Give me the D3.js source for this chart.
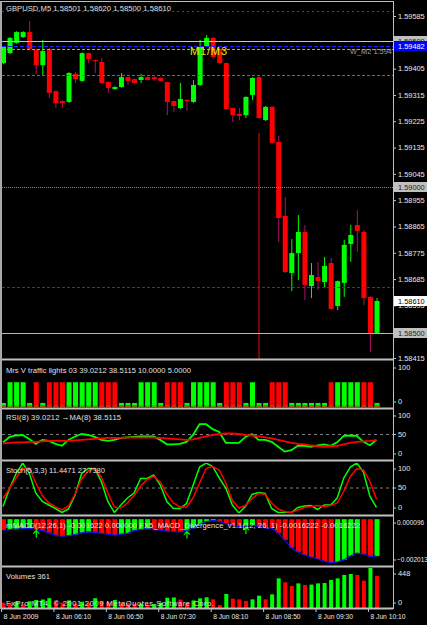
<!DOCTYPE html>
<html><head><meta charset="utf-8">
<script src="https://cdn.jsdelivr.net/npm/d3@7"></script>
<style>
html,body{margin:0;padding:0;background:#000;}
svg{display:block;}
</style></head><body>
<svg id="chart" width="427" height="625"></svg>
<script>
// GBPUSD M5, 8 Jun 2009, bars 05:30 .. 10:15
const opens  = [1.59424,1.59458,1.59493,1.59513,1.59530,1.59469,1.59417,1.59472,1.59328,1.59294,
                1.59291,1.59387,1.59363,1.59458,1.59434,1.59428,1.59359,1.59335,1.59342,1.59376,
                1.59369,1.59366,1.59376,1.59376,1.59373,1.59359,1.59294,1.59270,1.59298,1.59291,
                1.59349,1.59482,1.59510,1.59472,1.59424,1.59270,1.59250,1.59246,1.59315,1.59376,
                1.59229,1.59274,1.59154,1.58901,1.58706,1.58774,1.58846,1.58661,1.58692,1.58675,
                1.58740,1.58593,1.58672,1.58805,1.58870,1.58846,1.58624,1.58501]
const highs  = [1.59482,1.59513,1.59533,1.59533,1.59568,1.59472,1.59503,1.59475,1.59330,1.59296,
                1.59393,1.59393,1.59461,1.59460,1.59436,1.59441,1.59361,1.59344,1.59390,1.59378,
                1.59371,1.59387,1.59378,1.59378,1.59375,1.59361,1.59296,1.59356,1.59300,1.59366,
                1.59503,1.59520,1.59513,1.59474,1.59426,1.59272,1.59270,1.59310,1.59375,1.59378,
                1.59277,1.59277,1.59175,1.58966,1.58822,1.58904,1.58870,1.58740,1.58744,1.58761,
                1.58757,1.58680,1.58819,1.58870,1.58921,1.58853,1.58626,1.58620]
const lows   = [1.59420,1.59455,1.59490,1.59510,1.59469,1.59387,1.59383,1.59305,1.59270,1.59274,
                1.59288,1.59356,1.59360,1.59424,1.59390,1.59353,1.59322,1.59333,1.59340,1.59349,
                1.59354,1.59356,1.59364,1.59363,1.59361,1.59246,1.59257,1.59267,1.59260,1.59288,
                1.59346,1.59479,1.59438,1.59421,1.59264,1.59222,1.59229,1.59236,1.59298,1.59233,
                1.59226,1.59148,1.58812,1.58706,1.58644,1.58682,1.58613,1.58620,1.58648,1.58654,
                1.58580,1.58579,1.58624,1.58744,1.58778,1.58596,1.58436,1.58500]
const closes = [1.59479,1.59510,1.59530,1.59530,1.59472,1.59417,1.59465,1.59322,1.59287,1.59287,
                1.59390,1.59369,1.59458,1.59438,1.59431,1.59356,1.59339,1.59342,1.59376,1.59363,
                1.59356,1.59376,1.59366,1.59369,1.59363,1.59291,1.59277,1.59301,1.59294,1.59349,
                1.59479,1.59510,1.59445,1.59424,1.59267,1.59246,1.59243,1.59308,1.59373,1.59236,
                1.59274,1.59151,1.58894,1.58709,1.58774,1.58846,1.58665,1.58699,1.58678,1.58730,
                1.58583,1.58678,1.58802,1.58836,1.58850,1.58620,1.58500,1.58610]

// red spike line on the 08:45 bar
const spike = {bar: 39, from: 1.59185, to: 1.58300}

const priceTicks = [1.59585,1.59405,1.59315,1.59225,1.59135,1.59045,1.58955,1.58865,1.58775,1.58685,1.58595,1.58415]
const levelPrices = [1.59602, 1.59500, 1.59482, 1.59471, 1.59383, 1.59000, 1.58658, 1.58500]
const levelKinds  = ['green','silver','blue','orange','brown','grey','purple','bid']
const boxPrices = [1.59500, 1.59482, 1.59000, 1.58610, 1.58500]
const boxKinds  = ['grey','blue','grey','white','grey']

const timeTickBars = [0, 8, 16, 24, 32, 40, 48, 56]
const timeLabels = ['8 Jun 2009','8 Jun 06:10','8 Jun 06:50','8 Jun 07:30','8 Jun 08:10','8 Jun 08:50','8 Jun 09:30','8 Jun 10:10']

// Mrs V traffic lights: 1 green, -1 red, 0 flat
const tlSignal = [0,1,1,1,0,-1,0,-1,-1,-1, 1,1,1,1,1,-1,-1,-1,0,0, 0,1,1,1,0,-1,-1,-1,0,1,
                  1,1,1,0,-1,-1,-1,0,1,0, 0,-1,-1,-1,0,0,0,0,0,0, -1,1,1,1,1,-1,-1,0]
const tlHigh = 55, tlLow = 9, tlBase = 4

const rsi = [34,45,48,49,41,31,39,37,31,27, 39,46,51,49,45,39,37,39,43,44, 45,46,46,46,39,30,30,31,35,49,
             71,71,61,55,33,33,33,45,51,39, 39,35,25,15,18,27,27,25,28,30, 27,34,47,48,47,35,28,39.02]
const rsiMa = [32,33,34,34,35,35,36,37,37,37, 37,38,39,40,41,42,43,43,43,43.5, 43.5,43.5,43.5,43.5,43,42,41,40,39,40,
               43,46,49,51,52,52,51,49,48,46, 44,42,39,36,33,31,30,28,26,25, 26,27,30,33,35,36,37,38.51]

const stochK = [13,49,79,100,80,40,23,16,9,1, 8,36,79,89,89,63,23,1,16,30, 40,69,69,76,56,23,9,9,19,55,
                92,100,93,70,50,16,0,13,37,41, 39,9,1,1,1,11,14,15,7,16, 16,30,70,92,100,82,33,11.45]
const stochD = [29,49,70,90,90,60,35,20,12,6, 14,38,68,84,89,72,40,12,10,20, 35,54,67,73,62,38,20,12,12,30,
                60,89,93,86,60,25,10,15,29,39, 37,20,8,3,1,6,11,13,15,13, 15,20,43,73,89,86,63,27.74]

const macd = [-0.00048,-0.00046,-0.00044,-0.00042,-0.00041,-0.00046,-0.00050,-0.00060,-0.00070,-0.00075,
              -0.00072,-0.00068,-0.00060,-0.00056,-0.00058,-0.00062,-0.00066,-0.00070,-0.00066,-0.00062,
              -0.00050,-0.00046,-0.00043,-0.00045,-0.00048,-0.00052,-0.00055,-0.00056,-0.00050,-0.00040,
              -0.00024,-0.00010,-0.00006,-0.00009,-0.00020,-0.00026,-0.00032,-0.00030,-0.00026,-0.00034,
              -0.00038,-0.00039,-0.00061,-0.00091,-0.00126,-0.00144,-0.00157,-0.00166,-0.00175,-0.00184,
              -0.00192,-0.00188,-0.00179,-0.00162,-0.00149,-0.00153,-0.00163,-0.0016222]
const macdArrows = [5, 28, 37]
const macdTicks = [0.000096, -0.002013]

const volumes = [60,55,70,40,75,90,95,110,80,60, 85,50,70,55,110,80,65,90,60,55,
                 45,50,40,45,60,115,118,95,60,85, 108,120,97,34,157,105,97,78,97,138,
                 97,153,332,288,246,276,258,262,276,280, 314,332,370,381,370,306,448,361]

const FONT = '"Liberation Sans", Arial, sans-serif'
const GREEN = '#00ff00', RED = '#ff0000'
const svg = d3.select('#chart')
const plotL = 2, plotR = 393

const x = d3.scaleLinear().domain([0, closes.length - 1]).range([3, 376.5])

const panels = {
    main: {top: 2, bottom: 359},
    tl:   {top: 362, bottom: 407},
    rsi:  {top: 410, bottom: 459},
    sto:  {top: 463, bottom: 513},
    macd: {top: 517, bottom: 565},
    vol:  {top: 568, bottom: 608}
}

const defs = svg.append('defs')
for (const k in panels) {
    const p = panels[k]
    defs.append('clipPath').attr('id', 'clip-' + k)
        .append('rect').attr('x', plotL).attr('y', p.top).attr('width', plotR - plotL).attr('height', p.bottom - p.top)
}
function layer(k){ return svg.append('g').attr('clip-path', `url(#clip-${k})`) }

function styleAxis(g, size){
    g.attr('font-family', FONT).attr('font-size', size || 7.4)
    g.selectAll('line').attr('stroke', '#c8c8c8')
    g.selectAll('text').attr('fill', '#e8e8e8')
}
function panelAxis(scale, ticks, fmt, p, size, pad){
    const g = svg.append('g').attr('transform', `translate(${plotR},0)`)
        .call(d3.axisRight(scale).tickValues(ticks).tickSize(3).tickPadding(pad === undefined ? 2 : pad).tickFormat(fmt))
    g.select('.domain').remove()
    g.selectAll('.tick').attr('transform', d => `translate(0,${Math.max(p.top + 6, Math.min(p.bottom - 5, scale(d)))})`)
    styleAxis(g, size)
    return g
}
// titles are stretched to the width they take in the terminal font
function title(txt, y, len){
    svg.append('text').attr('x', 6).attr('y', y).attr('fill', '#e0e0e0')
        .attr('font-family', FONT).attr('font-size', 7.6)
        .attr('textLength', len).attr('lengthAdjust', 'spacing').text(txt)
}

// ---------- main chart ----------
const yMain = d3.scaleLinear().domain([1.58415, 1.59585]).range([358, 16])
const main = layer('main')

const bars = closes.map((c, i) => ({i, o: opens[i], h: highs[i], l: lows[i], c}))
main.selectAll('line.wick').data(bars).enter().append('line')
    .attr('x1', d => x(d.i) + 0.5).attr('x2', d => x(d.i) + 0.5)
    .attr('y1', d => yMain(d.h)).attr('y2', d => yMain(d.l))
    .attr('stroke', d => d.c >= d.o ? GREEN : '#b0106a').attr('stroke-width', 1)
main.selectAll('rect.body').data(bars).enter().append('rect')
    .attr('x', d => x(d.i) - 2).attr('width', 5)
    .attr('y', d => yMain(Math.max(d.o, d.c)))
    .attr('height', d => Math.max(1, Math.abs(yMain(d.o) - yMain(d.c))))
    .attr('fill', d => d.c >= d.o ? GREEN : RED)

main.append('line')
    .attr('x1', x(spike.bar) + 0.5).attr('x2', x(spike.bar) + 0.5)
    .attr('y1', yMain(spike.from)).attr('y2', yMain(spike.to))
    .attr('stroke', RED).attr('stroke-width', 1)

const levelStyle = {
    green:  {c: '#0a7a0a', d: '2,3'},
    silver: {c: '#c8c8c8', d: null},
    blue:   {c: '#2020ff', d: '4,2'},
    orange: {c: '#e0a000', d: '3,2'},
    brown:  {c: '#9a6420', d: '3,2'},
    grey:   {c: '#8a8a8a', d: '1,1'},
    purple: {c: '#90105e', d: '3,2'},
    bid:    {c: '#b8b8a8', d: null}
}
main.selectAll('line.level').data(levelPrices).enter().append('line')
    .attr('x1', plotL).attr('x2', plotR)
    .attr('y1', d => Math.round(yMain(d)) + 0.5).attr('y2', d => Math.round(yMain(d)) + 0.5)
    .attr('stroke', (d, i) => levelStyle[levelKinds[i]].c)
    .attr('stroke-dasharray', (d, i) => levelStyle[levelKinds[i]].d)

main.append('text').attr('x', 190).attr('y', 55).attr('fill', '#e8e800')
    .attr('font-family', FONT).attr('font-size', 11).attr('textLength', 37).text('M1/M3')
main.append('text').attr('x', 350).attr('y', 54).attr('fill', '#a0a0a0')
    .attr('font-family', FONT).attr('font-size', 7.4).text('W_M2 1.5947')

const priceAxis = svg.append('g').attr('transform', `translate(${plotR},0)`)
    .call(d3.axisRight(yMain).tickValues(priceTicks).tickSize(3).tickPadding(2).tickFormat(d3.format('.5f')))
priceAxis.select('.domain').remove()
styleAxis(priceAxis)

const boxStyle = {grey: ['#c0c0c0', '#202020'], blue: ['#0000ff', '#ffffff'], white: ['#ffffff', '#000000']}
const boxes = svg.selectAll('g.pbox').data(boxPrices).enter().append('g')
    .attr('transform', d => `translate(${plotR + 1},${Math.round(yMain(d))})`)
boxes.append('rect').attr('x', 0).attr('y', -5).attr('width', 33).attr('height', 10)
    .attr('fill', (d, i) => boxStyle[boxKinds[i]][0])
boxes.append('text').attr('x', 4).attr('y', 3).attr('font-family', FONT).attr('font-size', 7.4)
    .attr('fill', (d, i) => boxStyle[boxKinds[i]][1]).text(d3.format('.5f'))

title('GBPUSD,M5  1.58501 1.58620 1.58500 1.58610', 11, 165)

// ---------- traffic lights ----------
const pTL = panels.tl
const yTL = d3.scaleLinear().domain([0, 100]).range([pTL.bottom, pTL.top])
const tl = layer('tl')
tl.selectAll('rect.tl').data(tlSignal).enter().append('rect')
    .attr('x', (d, i) => x(i) - 2).attr('width', 5)
    .attr('y', d => yTL(d === 0 ? tlLow : tlHigh))
    .attr('height', d => yTL(0) - yTL(d === 0 ? tlLow : tlHigh))
    .attr('fill', d => d < 0 ? RED : GREEN)
tl.selectAll('rect.base').data(tlSignal).enter().append('rect')
    .attr('x', (d, i) => x(i) - 2).attr('width', 5)
    .attr('y', yTL(tlBase)).attr('height', yTL(0) - yTL(tlBase))
    .attr('fill', '#a0581a').attr('opacity', d => d === 0 ? 1 : 0.55)
panelAxis(yTL, [100, 0], d3.format('d'), pTL)
title('Mrs V traffic lights 03 39.0212 38.5115 10.0000 5.0000', 373, 185)

// ---------- RSI ----------
const pR = panels.rsi
const yRSI = d3.scaleLinear().domain([0, 100]).range([pR.bottom, pR.top])
const rl = layer('rsi')
rl.append('line').attr('x1', plotL).attr('x2', plotR).attr('y1', yRSI(50)).attr('y2', yRSI(50))
    .attr('stroke', '#808080').attr('stroke-dasharray', '3,3')
const lineR = d3.line().x((d, i) => x(i)).y(d => yRSI(d))
rl.append('path').datum(rsi).attr('d', lineR).attr('fill', 'none').attr('stroke', GREEN).attr('stroke-width', 1.8)
rl.append('path').datum(rsiMa).attr('d', lineR).attr('fill', 'none').attr('stroke', RED).attr('stroke-width', 1.8)
panelAxis(yRSI, [100, 50, 0], d3.format('d'), pR)
title('RSI(8) 39.0212   \u2192MA(8) 38.5115', 420, 115)

// ---------- Stochastic ----------
const pS = panels.sto
const ySto = d3.scaleLinear().domain([0, 100]).range([pS.bottom, pS.top])
const sl = layer('sto')
sl.append('line').attr('x1', plotL).attr('x2', plotR).attr('y1', ySto(50)).attr('y2', ySto(50))
    .attr('stroke', '#808080').attr('stroke-dasharray', '3,3')
const lineS = d3.line().x((d, i) => x(i)).y(d => ySto(d))
sl.append('path').datum(stochK).attr('d', lineS).attr('fill', 'none').attr('stroke', GREEN).attr('stroke-width', 1.5)
sl.append('path').datum(stochD).attr('d', lineS).attr('fill', 'none').attr('stroke', RED).attr('stroke-width', 1.5)
panelAxis(ySto, [100, 50, 0], d3.format('d'), pS)
title('Stoch(5,3,3) 11.4471 27.7380', 473, 99)

// ---------- MACD ----------
const pM = panels.macd
const yMacd = d3.scaleLinear().domain([macdTicks[1], macdTicks[0]]).range([pM.bottom, pM.top])
const ml = layer('macd')
ml.selectAll('rect').data(macd).enter().append('rect')
    .attr('x', (d, i) => x(i) - 2).attr('width', 5)
    .attr('y', yMacd(0)).attr('height', d => yMacd(d) - yMacd(0))
    .attr('fill', (d, i) => i > 0 && d >= macd[i - 1] ? GREEN : RED)
ml.append('path').datum(macd).attr('d', d3.line().x((d, i) => x(i)).y(d => yMacd(d)))
    .attr('fill', 'none').attr('stroke', '#1010ff').attr('stroke-width', 1.2)
ml.selectAll('path.arrow').data(macdArrows).enter().append('path')
    .attr('transform', i => `translate(${x(i) + 0.5},${yMacd(macd[i]) + 1})`)
    .attr('d', 'M-3,3 L0,0 L3,3 M0,0 V7')
    .attr('fill', 'none').attr('stroke', GREEN).attr('stroke-width', 1.2)
title('mMACD(12,26,1) -0.001622 0.000000  FX5_MACD_Divergence_v1.1(12, 26, 1) -0.0016222 -0.0016222', 528, 354)
panelAxis(yMacd, macdTicks, d3.format('.6f'), pM, 6.5, 1)

// ---------- Volumes ----------
const pV = panels.vol
const yVol = d3.scaleLinear().domain([0, 448]).range([pV.bottom, pV.top])
const vl = layer('vol')
vl.selectAll('rect').data(volumes).enter().append('rect')
    .attr('x', (d, i) => x(i) - 1.5).attr('width', 4)
    .attr('y', d => yVol(d)).attr('height', d => yVol(0) - yVol(d))
    .attr('fill', (d, i) => i > 0 && d > volumes[i - 1] ? GREEN : RED)
panelAxis(yVol, [448, 0], d3.format('d'), pV)
title('Volumes 361', 579, 44)
title('FxPro MT4, \u00a9 2001-2009 MetaQuotes Software Corp.', 606, 208)

// ---------- frame ----------
const sepY = [359.5, 408.5, 460.5, 515.5, 566.5, 608.5]
svg.selectAll('line.sep').data(sepY).enter().append('line')
    .attr('x1', plotL).attr('x2', plotR).attr('y1', d => d).attr('y2', d => d)
    .attr('stroke', '#c0c0c0').attr('stroke-width', 2)
svg.append('line').attr('x1', plotL).attr('x2', plotR).attr('y1', 1.5).attr('y2', 1.5).attr('stroke', '#c0c0c0').attr('stroke-width', 1)
svg.append('line').attr('x1', 1).attr('x2', 1).attr('y1', 1).attr('y2', 609).attr('stroke', '#a8a8a8').attr('stroke-width', 2)
svg.append('line').attr('x1', plotR + 0.5).attr('x2', plotR + 0.5).attr('y1', 1).attr('y2', 609).attr('stroke', '#c0c0c0').attr('stroke-width', 1)

// ---------- time axis ----------
const timeAxis = svg.append('g').attr('transform', 'translate(-2,609)')
    .call(d3.axisBottom(x).tickValues(timeTickBars).tickSize(3).tickPadding(2).tickFormat((d, i) => timeLabels[i]))
timeAxis.select('.domain').remove()
timeAxis.selectAll('text').attr('text-anchor', 'start').attr('x', 2)
    .attr('textLength', 35).attr('lengthAdjust', 'spacingAndGlyphs')
styleAxis(timeAxis)
</script>
</body></html>
